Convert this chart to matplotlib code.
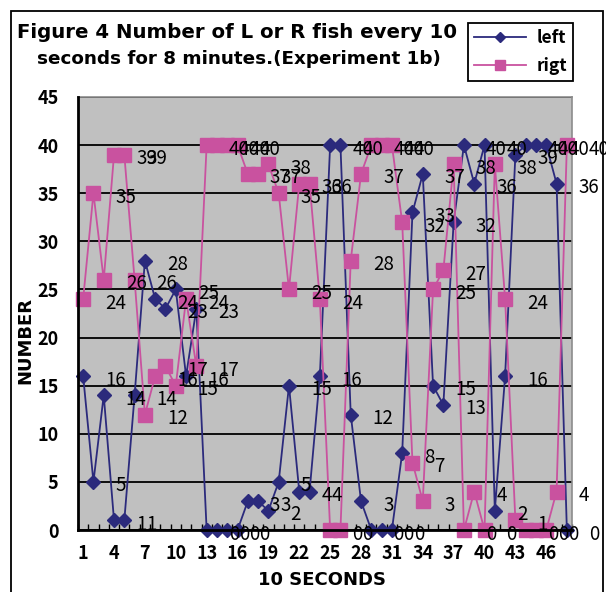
import matplotlib
matplotlib.use("Agg")
import matplotlib.pyplot as plt
from matplotlib.patches import Rectangle
import numpy as np

plt.rcParams['font.family'] = ['Noto Sans CJK JP', 'DejaVu Sans']

# ---- data ----
periods = list(range(1, 49))
left = [16, 5, 14, 1, 1, 14, 28, 24, 23, 25,
        16, 23, 0, 0, 0, 0, 3, 3, 2, 5,
        15, 4, 4, 16, 40, 40, 12, 3, 0, 0,
        0, 8, 33, 37, 15, 13, 32, 40, 36, 40,
        2, 16, 39, 40, 40, 40, 36, 0]
rigt = [24, 35, 26, 39, 39, 26, 12, 16, 17, 15,
        24, 17, 40, 40, 40, 40, 37, 37, 38, 35,
        25, 36, 36, 24, 0, 0, 28, 37, 40, 40,
        40, 32, 7, 3, 25, 27, 38, 0, 4, 0,
        38, 24, 1, 0, 0, 0, 4, 40]
x_tick_labels = [str(v) for v in range(1, 49, 3)]
y_ticks = [0, 5, 10, 15, 20, 25, 30, 35, 40, 45]
series_names = ["left", "rigt"]
title_lines = ["Figure 4 Number of L or R fish every 10",
               "seconds for 8 minutes.(Experiment 1b)"]
x_label = "10 SECONDS"
y_label = "NUMBER"

W, H = 606, 592
fig = plt.figure(figsize=(W / 100, H / 100), dpi=100)
fig.patch.set_facecolor("white")

def fx(px):
    return px / W

def fy(py):
    return 1 - py / H

# outer chart border
fig.patches.append(Rectangle((fx(11), fy(600)), fx(603) - fx(11), fy(11) - fy(600),
                             transform=fig.transFigure, fill=False,
                             edgecolor="black", linewidth=1.3, zorder=0))

ax = fig.add_axes([fx(78), fy(530), fx(572) - fx(78), fy(97) - fy(530)])
ax.set_facecolor("#C0C0C0")
ax.set_xlim(0.5, 48.5)
ax.set_ylim(0, 45)

navy = "#2B2A7C"
pink = "#C9529F"

ax.plot(periods, left, color=navy, lw=1.3, marker="D", ms=7,
        mfc=navy, mec=navy, label=series_names[0], zorder=3, clip_on=False)
ax.plot(periods, rigt, color=pink, lw=1.3, marker="s", ms=10,
        mfc=pink, mec=pink, label=series_names[1], zorder=3, clip_on=False)

for xs, vals in ((periods, left), (periods, rigt)):
    for x, v in zip(xs, vals):
        ax.annotate(str(v), (x, v), xytext=(22, -4), textcoords="offset pixels",
                    ha="left", va="center", fontsize=13.5, color="black",
                    annotation_clip=False, zorder=5)

# gridlines
ax.set_yticks(y_ticks)
ax.yaxis.grid(True, color="black", lw=1.3)
ax.set_axisbelow(True)
ax.set_yticklabels([str(v) for v in y_ticks], fontsize=13, fontweight="bold")
ax.tick_params(axis="y", length=0, pad=14)

# x ticks: marks at category boundaries, labels every 3rd category
ax.set_xticks(np.arange(0.5, 49, 1.0))
ax.set_xticklabels([])
ax.tick_params(axis="x", which="major", direction="in", length=4, width=1, color="black")
ax.set_xticks(list(range(1, 49, 3)), minor=True)
ax.set_xticklabels(x_tick_labels, minor=True, fontsize=13, fontweight="bold")
ax.tick_params(axis="x", which="minor", length=0, pad=10)

for s in ("top", "right"):
    ax.spines[s].set_color("#8C8C8C")
    ax.spines[s].set_linewidth(1.2)
for s in ("left", "bottom"):
    ax.spines[s].set_color("black")
    ax.spines[s].set_linewidth(2)
ax.spines["left"].set_zorder(4)
ax.spines["bottom"].set_zorder(4)

fig.text(fx(322), fy(580), x_label, ha="center", va="center",
         fontsize=13, fontweight="bold", family="DejaVu Sans")
fig.text(fx(25), fy(340), y_label, ha="center", va="center", rotation=90,
         fontsize=13, fontweight="bold", family="DejaVu Sans")

fig.text(fx(17), fy(32), title_lines[0], ha="left", va="center",
         fontsize=14.2, fontweight="bold", family="DejaVu Sans")
fig.text(fx(37), fy(59), title_lines[1], ha="left", va="center",
         fontsize=13.2, fontweight="bold", family="DejaVu Sans")

leg = fig.legend(loc="upper left", bbox_to_anchor=(fx(468), fy(23)),
                 bbox_transform=fig.transFigure, frameon=True, fancybox=False,
                 edgecolor="black", framealpha=1, prop={"size": 12.5, "weight": "bold"},
                 handlelength=3.0, borderpad=0.35, labelspacing=0.55, handletextpad=0.6,
                 markerscale=0.7, borderaxespad=0)
leg.get_frame().set_linewidth(1.3)

fig.savefig("out.png", dpi=100)
